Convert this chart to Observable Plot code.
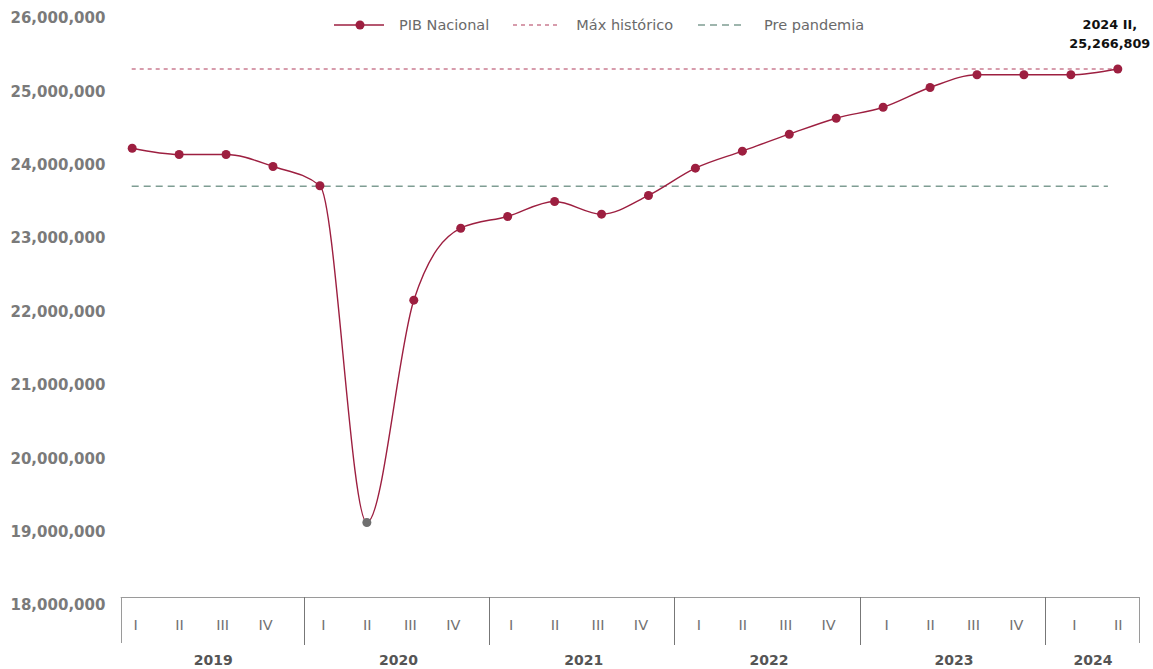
<!DOCTYPE html>
<html>
<head>
<meta charset="utf-8">
<script src="https://cdn.jsdelivr.net/npm/d3@7"></script>
<script src="https://cdn.jsdelivr.net/npm/@observablehq/plot@0.6"></script>
<style>
  body { margin: 0; background: #fff; }
  #wrap { position: relative; width: 1153px; height: 669px; font-family: "DejaVu Sans", sans-serif; }
  #legend { position: absolute; top: 17px; left: 334px; display: flex; align-items: center; font-size: 14.5px; color: #6a6a6a; }
  #legend .item { display: flex; align-items: center; }
  #legend svg { display: block; }
</style>
</head>
<body>
<div id="wrap">
  <div id="chart"></div>
  <div id="legend"></div>
</div>
<script>
// ---------- data ----------
const years = ["2019", "2020", "2021", "2022", "2023", "2024"];
const quarterLabels = ["I", "II", "III", "IV"];
const periodYear = ["2019","2019","2019","2019","2020","2020","2020","2020","2021","2021","2021","2021",
                    "2022","2022","2022","2022","2023","2023","2023","2023","2024","2024"];
const periodQuarter = ["I","II","III","IV","I","II","III","IV","I","II","III","IV",
                       "I","II","III","IV","I","II","III","IV","I","II"];
const pib = [24187000, 24102000, 24102000, 23938000, 23675000, 19086000, 22116000, 23097000,
             23257000, 23461000, 23288000, 23543000, 23915000, 24147000, 24378000, 24596000,
             24746000, 25015000, 25188000, 25188000, 25188000, 25266809];
const maxHistorico = 25266809;
const prePandemia = 23670000;
const yTicks = [18000000, 19000000, 20000000, 21000000, 22000000, 23000000, 24000000, 25000000, 26000000];
const legendLabels = ["PIB Nacional", "Máx histórico", "Pre pandemia"];
const highlightLabel = "2024 II,\n25,266,809";

// ---------- styles ----------
const FONT = "DejaVu Sans, sans-serif";
const RED = "#9d1f40";
const MAXC = "#b03a5b";
const PREC = "#7f9d93";
const GREYPT = "#6f6f6f";

const rows = pib.map((v, i) => ({ i, year: periodYear[i], q: periodQuarter[i], value: v }));
const minVal = d3.min(pib);
const lastRow = rows[rows.length - 1];
const fmt = d3.format(",");
const n = pib.length;

// category axis (two-level box) drawn with the plot's x scale
const quarterDx = { I: 4, II: 1, III: -3, IV: -7 };
function categoryAxis(index, scales) {
  const x = scales.x;
  const left = x(0) - 11, right = x(n - 1) + 22;
  const bw = (right - left) / n;
  const top = 597;
  const g = d3.create("svg:g").attr("font-family", FONT);
  g.append("line").attr("x1", left).attr("x2", right).attr("y1", top + 0.5).attr("y2", top + 0.5)
    .attr("stroke", "#9a9a9a");
  let start = 0;
  const bounds = [0];
  years.forEach(yr => {
    const cnt = periodYear.filter(d => d === yr).length;
    start += cnt;
    bounds.push(start);
  });
  bounds.forEach((b, k) => {
    const px = Math.round(left + bw * b - (k > 0 && k < bounds.length - 1 ? 2 : 0)) + 0.5;
    const edge = k === 0 || k === bounds.length - 1;
    g.append("line").attr("x1", px).attr("x2", px).attr("y1", top).attr("y2", edge ? 643 : 645)
      .attr("stroke", edge ? "#9a9a9a" : "#777");
  });
  years.forEach((yr, k) => {
    const cx = left + bw * (bounds[k] + bounds[k + 1]) / 2;
    g.append("text").attr("x", cx).attr("y", 660).attr("dy", "0.35em").attr("text-anchor", "middle")
      .attr("font-size", 14).attr("font-weight", "bold").attr("fill", "#555").text(yr);
  });
  rows.forEach(r => {
    g.append("text").attr("x", x(r.i) + quarterDx[r.q]).attr("y", 625).attr("dy", "0.35em")
      .attr("text-anchor", "middle").attr("font-size", 14.5).attr("fill", "#727272").text(r.q);
  });
  return g.node();
}

const plot = Plot.plot({
  width: 1153,
  height: 669,
  marginTop: 0, marginRight: 0, marginBottom: 0, marginLeft: 0,
  style: { fontFamily: FONT, background: "#fff", overflow: "visible" },
  x: { type: "linear", domain: [0, n - 1], range: [131.7, 1117.3], axis: null },
  y: { type: "linear", domain: [18000000, 26000000], range: [601.7, 14.7], axis: null },
  marks: [
    Plot.ruleY([maxHistorico], { x1: 0, x2: n - 1, stroke: MAXC, strokeWidth: 1.2, strokeDasharray: "4,4" }),
    Plot.ruleY([prePandemia], { x1: 0, x2: n - 1.2, stroke: PREC, strokeWidth: 1.5, strokeDasharray: "7,5" }),
    Plot.line(rows, { x: "i", y: "value", curve: "monotone-x", stroke: RED, strokeWidth: 1.4 }),
    Plot.dot(rows.filter(d => d.value !== minVal), { x: "i", y: "value", r: 4.5, fill: RED, stroke: "none" }),
    Plot.dot(rows.filter(d => d.value === minVal), { x: "i", y: "value", r: 4.5, fill: GREYPT, stroke: "none" }),
    Plot.text(yTicks, { y: d => d, text: d => fmt(d), frameAnchor: "left", dx: 10, dy: 3.3, textAnchor: "start",
      fill: "#7a7a7a", fontWeight: "bold", fontSize: 15 }),
    Plot.text([lastRow], { x: "i", y: "value", text: () => highlightLabel, dx: -8, dy: -21, lineAnchor: "bottom",
      textAnchor: "middle", fontWeight: "bold", fontSize: 12.8, fill: "#111", lineHeight: 1.48 }),
    categoryAxis
  ]
});
document.getElementById("chart").appendChild(plot);

// ---------- legend ----------
const legend = d3.select("#legend");
const sym = [
  { w: 50, draw: s => { s.append("line").attr("x1", 0).attr("x2", 50).attr("y1", 6).attr("y2", 6).attr("stroke", RED).attr("stroke-width", 1.6);
                        s.append("circle").attr("cx", 26).attr("cy", 6).attr("r", 4.5).attr("fill", RED); }, gapText: 15, gapNext: 24 },
  { w: 48, draw: s => { s.append("line").attr("x1", 0).attr("x2", 48).attr("y1", 6).attr("y2", 6).attr("stroke", MAXC).attr("stroke-width", 1.2).attr("stroke-dasharray", "4,4"); }, gapText: 15, gapNext: 25 },
  { w: 46, draw: s => { s.append("line").attr("x1", 0).attr("x2", 46).attr("y1", 6).attr("y2", 6).attr("stroke", PREC).attr("stroke-width", 1.5).attr("stroke-dasharray", "7,5"); }, gapText: 20, gapNext: 0 }
];
legendLabels.forEach((lab, k) => {
  const it = legend.append("div").attr("class", "item").style("margin-right", sym[k].gapNext + "px");
  const s = it.append("svg").attr("width", sym[k].w).attr("height", 12).style("margin-right", sym[k].gapText + "px");
  sym[k].draw(s);
  it.append("span").text(lab);
});
</script>
</body>
</html>
